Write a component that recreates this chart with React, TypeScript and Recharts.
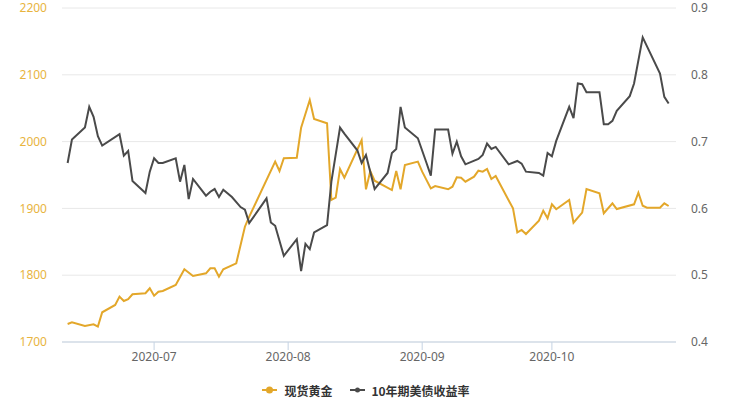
import React from 'react';
import { LineChart, Line, XAxis, YAxis, CartesianGrid, Legend } from 'recharts';

// 现货黄金 (USD/oz), by month
const goldDates = [
  '06-11', '06-12', '06-15', '06-17', '06-18', '06-19', '06-22', '06-23', '06-24', '06-25', '06-26', '06-29', '06-30',
  '07-01', '07-02', '07-03', '07-06', '07-08', '07-10', '07-13', '07-14', '07-15', '07-16', '07-17', '07-20', '07-22', '07-23', '07-29', '07-30', '07-31',
  '08-03', '08-04', '08-06', '08-07', '08-10', '08-11', '08-12', '08-13', '08-14', '08-18', '08-19', '08-20', '08-21', '08-25', '08-26', '08-27', '08-28', '08-31',
  '09-01', '09-03', '09-04', '09-07', '09-08', '09-09', '09-10', '09-11', '09-13', '09-14', '09-15', '09-16', '09-17', '09-18', '09-22', '09-23', '09-24', '09-25', '09-28', '09-29', '09-30',
  '10-01', '10-02', '10-05', '10-06', '10-08', '10-09', '10-12', '10-13', '10-15', '10-16', '10-20', '10-21', '10-22', '10-23', '10-26', '10-27', '10-28',
];
const goldPrices = [
  1727, 1729.5, 1724, 1726.5, 1723, 1744.5, 1755.4, 1768, 1761.4, 1764, 1771.4, 1773, 1780.4,
  1769.3, 1775.3, 1776.4, 1785.3, 1808.8, 1798.8, 1802.8, 1810.3, 1810.3, 1797.7, 1808.8, 1817.8, 1872.6, 1887.6, 1970, 1956, 1975,
  1975.9, 2020.8, 2062.3, 2033.8, 2027.4, 1912.6, 1916, 1959, 1946, 2002.4, 1928.6, 1956, 1941.5, 1927.5, 1956, 1928.6, 1965, 1970,
  1955, 1930, 1933.5, 1928.6, 1932.5, 1946.6, 1946, 1940, 1947.5, 1956.4, 1955, 1959, 1944, 1948.5, 1900, 1864, 1867.7, 1861.7, 1881.6, 1896.6, 1885.2,
  1906.1, 1898.7, 1912.6, 1878.6, 1893.6, 1929, 1922.6, 1892.7, 1907.6, 1899.1, 1906.1, 1923.5, 1904, 1901, 1901, 1907.6, 1903.6,
];

// 10年期美债收益率 (%), by month
const yieldDates = [
  '06-11', '06-12', '06-15', '06-16', '06-17', '06-18', '06-19', '06-23', '06-24', '06-25', '06-26', '06-29', '06-30',
  '07-01', '07-02', '07-03', '07-06', '07-07', '07-08', '07-09', '07-10', '07-13', '07-14', '07-15', '07-16', '07-17', '07-19', '07-21', '07-22', '07-23', '07-27', '07-28', '07-29', '07-31',
  '08-03', '08-04', '08-05', '08-06', '08-07', '08-10', '08-11', '08-13', '08-14', '08-17', '08-18', '08-19', '08-21', '08-24', '08-25', '08-26', '08-27', '08-28', '08-31',
  '09-02', '09-03', '09-04', '09-07', '09-08', '09-09', '09-10', '09-11', '09-14', '09-15', '09-16', '09-17', '09-18', '09-21', '09-23', '09-24', '09-25', '09-28', '09-29', '09-30',
  '10-01', '10-02', '10-05', '10-06', '10-07', '10-08', '10-09', '10-12', '10-13', '10-14', '10-15', '10-16', '10-19', '10-20', '10-22', '10-26', '10-27', '10-28',
];
const yieldRates = [
  0.668, 0.703, 0.721, 0.752, 0.737, 0.708, 0.694, 0.711, 0.679, 0.686, 0.641, 0.623, 0.655,
  0.675, 0.668, 0.668, 0.675, 0.64, 0.665, 0.614, 0.644, 0.619, 0.625, 0.629, 0.617, 0.628, 0.617, 0.602, 0.598, 0.578, 0.615, 0.579, 0.574, 0.529,
  0.554, 0.506, 0.547, 0.539, 0.564, 0.575, 0.64, 0.721, 0.712, 0.687, 0.668, 0.68, 0.629, 0.653, 0.683, 0.689, 0.752, 0.721, 0.705,
  0.668, 0.649, 0.718, 0.718, 0.682, 0.7, 0.678, 0.666, 0.674, 0.68, 0.697, 0.689, 0.692, 0.666, 0.671, 0.667, 0.655, 0.653, 0.649, 0.683,
  0.678, 0.701, 0.752, 0.735, 0.787, 0.786, 0.774, 0.774, 0.726, 0.726, 0.731, 0.746, 0.768, 0.787, 0.856, 0.802, 0.767, 0.757,
];

const monthTicks = ['07-01', '08-01', '09-01', '10-01'];
const goldTicks = [1700, 1800, 1900, 2000, 2100, 2200];
const yieldTicks = [0.4, 0.5, 0.6, 0.7, 0.8, 0.9];

const GOLD = '#e3a72a';
const DARK = '#4a4a4a';

// day number counted from 2020-06-01
const toDay = (md: string) => (Date.parse('2020-' + md) - Date.parse('2020-06-01')) / 86400000;
const fmtDay = (d: number) => new Date(Date.parse('2020-06-01') + d * 86400000).toISOString().slice(0, 7);

const rows: Record<number, { x: number; gold?: number; rate?: number }> = {};
goldDates.forEach((d, i) => {
  const x = toDay(d);
  rows[x] = { ...(rows[x] || { x }), gold: goldPrices[i] };
});
yieldDates.forEach((d, i) => {
  const x = toDay(d);
  rows[x] = { ...(rows[x] || { x }), rate: yieldRates[i] };
});
const data = Object.values(rows).sort((a, b) => a.x - b.x);

function LegendBox() {
  const item = (color: string, r: number, label: string, gap: number) => (
    <div style={{ display: 'flex', alignItems: 'center' }}>
      <svg width={15} height={10}>
        <line x1={0} y1={5} x2={15} y2={5} stroke={color} strokeWidth={2} />
        <circle cx={7.5} cy={5} r={r} fill={color} />
      </svg>
      <span style={{ marginLeft: gap }}>{label}</span>
    </div>
  );
  return (
    <div
      style={{
        display: 'flex',
        justifyContent: 'center',
        alignItems: 'center',
        height: 20,
        gap: 18,
        fontFamily: '"Noto Sans CJK SC", "Noto Sans", sans-serif',
        fontSize: 12,
        fontWeight: 700,
        color: '#333',
      }}
    >
      {item(GOLD, 3.5, '现货黄金', 7)}
      {item(DARK, 2.5, '10年期美债收益率', 6)}
    </div>
  );
}

export default function App() {
  return (
    <div style={{ position: 'absolute', left: 0, top: 0, width: 732, height: 400, background: '#fff' }}>
      <LineChart
        width={732}
        height={400}
        data={data}
        margin={{ top: 8, right: 0, bottom: 0, left: 0 }}
        style={{ fontFamily: '"Noto Sans", sans-serif' }}
      >
        <CartesianGrid yAxisId="gold" vertical={false} stroke="#e8e8e8" />
        <XAxis
          dataKey="x"
          type="number"
          domain={[8.7, 150.7]}
          ticks={monthTicks.map(toDay)}
          tickFormatter={fmtDay}
          height={38}
          axisLine={{ stroke: '#c5d3e3' }}
          tickLine={{ stroke: '#c5d3e3' }}
          tickSize={8}
          tickMargin={2}
          tick={{ fill: '#666', fontSize: 12 }}
        />
        <YAxis
          yAxisId="gold"
          orientation="left"
          domain={[1700, 2200]}
          ticks={goldTicks}
          width={62}
          axisLine={false}
          tickLine={false}
          tickSize={0}
          tickMargin={15}
          tick={{ fill: '#e8b43e', fontSize: 12 }}
        />
        <YAxis
          yAxisId="rate"
          orientation="right"
          domain={[0.4, 0.9]}
          ticks={yieldTicks}
          width={56}
          axisLine={false}
          tickLine={false}
          tickSize={0}
          tickMargin={15}
          tick={{ fill: '#666', fontSize: 12 }}
        />
        <Legend verticalAlign="bottom" height={20} content={() => <LegendBox />} />
        <Line
          yAxisId="gold"
          dataKey="gold"
          name="现货黄金"
          type="linear"
          stroke={GOLD}
          strokeWidth={2}
          dot={false}
          connectNulls
          isAnimationActive={false}
        />
        <Line
          yAxisId="rate"
          dataKey="rate"
          name="10年期美债收益率"
          type="linear"
          stroke={DARK}
          strokeWidth={2}
          dot={false}
          connectNulls
          isAnimationActive={false}
        />
      </LineChart>
    </div>
  );
}
